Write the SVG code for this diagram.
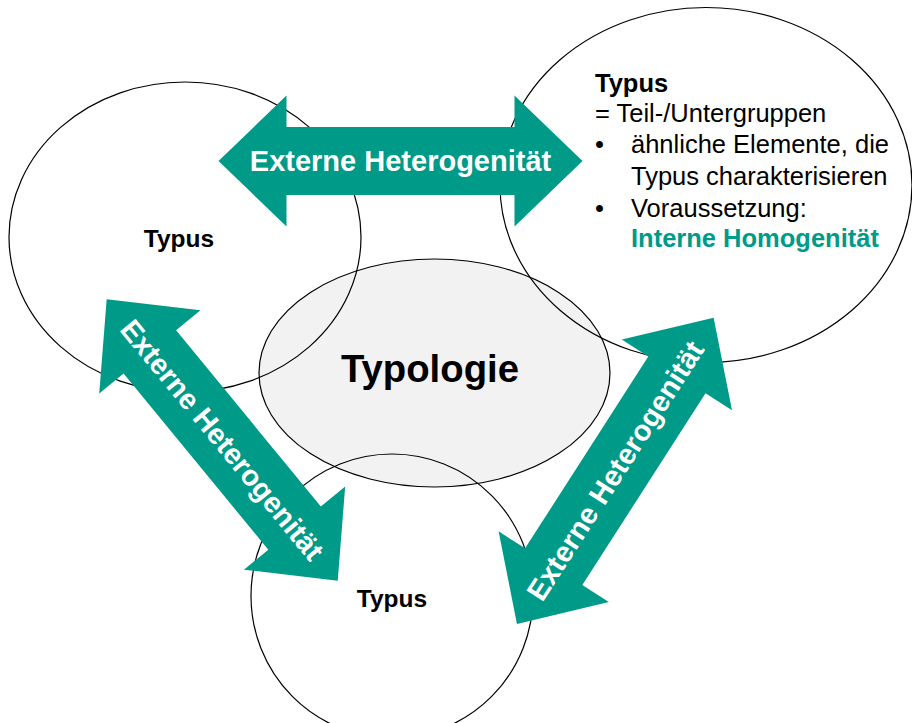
<svg xmlns="http://www.w3.org/2000/svg" width="912" height="723" viewBox="0 0 912 723">
<style>
.ring{fill:none;stroke:#000;stroke-width:1.2}
.core{fill:#f2f2f2;stroke:#000;stroke-width:1.2}
.lbl{font-family:"Liberation Sans",Arial,sans-serif;font-weight:bold;fill:#000;text-anchor:middle}
.body{font-family:"Liberation Sans",Arial,sans-serif;font-size:25.5px;fill:#000}
.accent{font-weight:bold;fill:#009a89}
.arrowfill{fill:#009a89}
.arrowtxt{font-family:"Liberation Sans",Arial,sans-serif;font-weight:bold;font-size:29px;fill:#fff;text-anchor:middle}
</style>
<defs>
<path id="dblarrow" d="M -182 0 L -114 -65.5 L -114 -34 L 114 -34 L 114 -65.5 L 182 0 L 114 65.5 L 114 34 L -114 34 L -114 65.5 Z"/>
</defs>
<rect width="912" height="723" fill="#fff"/>
<g id="typologie">
<ellipse class="core" cx="434.5" cy="373" rx="175.5" ry="114"/>
<text class="lbl" x="430" y="382" font-size="38.3">Typologie</text>
</g>
<g id="typus-left">
<ellipse class="ring" cx="185" cy="237" rx="176" ry="155"/>
<text class="lbl" x="179" y="247" font-size="24.5">Typus</text>
</g>
<g id="typus-right">
<ellipse class="ring" cx="706" cy="185" rx="206" ry="177.5"/>
<text class="body" x="595" y="92" font-weight="bold">Typus</text>
<text class="body" x="595" y="122">= Teil-/Untergruppen</text>
<text class="body" x="595" y="153">•</text>
<text class="body" x="631" y="153">ähnliche Elemente, die</text>
<text class="body" x="631" y="185">Typus charakterisieren</text>
<text class="body" x="595" y="217">•</text>
<text class="body" x="631" y="217">Voraussetzung:</text>
<text class="body accent" x="631" y="247">Interne Homogenität</text>
</g>
<g id="typus-bottom">
<ellipse class="ring" cx="392" cy="596" rx="141" ry="142"/>
<text class="lbl" x="392" y="607" font-size="24.5">Typus</text>
</g>
<g id="connectors">
<g transform="translate(400.5,161)">
<use href="#dblarrow" class="arrowfill"/>
<text class="arrowtxt" x="0" y="10">Externe Heterogenität</text>
</g>
<g transform="translate(222.2,440) rotate(50.6)">
<use href="#dblarrow" class="arrowfill"/>
<text class="arrowtxt" x="0" y="10">Externe Heterogenität</text>
</g>
<g transform="translate(615.3,470.8) rotate(-57.3)">
<use href="#dblarrow" class="arrowfill"/>
<text class="arrowtxt" x="0" y="10">Externe Heterogenität</text>
</g>
</g>
</svg>
